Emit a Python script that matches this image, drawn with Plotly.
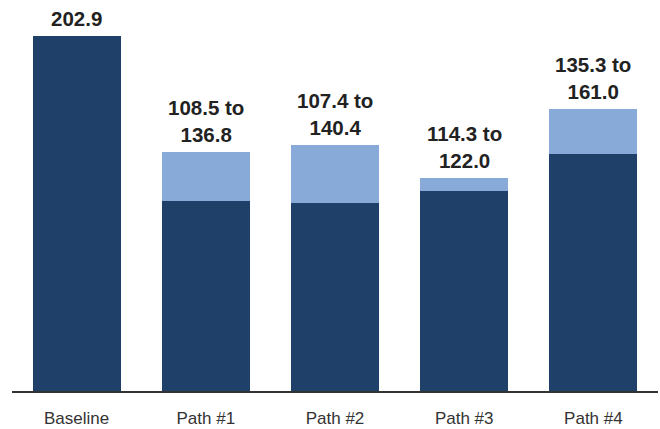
import plotly.graph_objects as go

categories = ["Baseline", "Path #1", "Path #2", "Path #3", "Path #4"]
low_values = [202.9, 108.5, 107.4, 114.3, 135.3]
high_values = [202.9, 136.8, 140.4, 122.0, 161.0]

DARK = "#1f4169"
LIGHT = "#87aad9"

fig = go.Figure()

# lower bound (dark) plus the range on top (light)
fig.add_trace(go.Bar(
    x=categories, y=low_values,
    marker=dict(color=DARK, line_width=0),
    hoverinfo="skip",
))
fig.add_trace(go.Bar(
    x=categories,
    y=[h - l for l, h in zip(low_values, high_values)],
    marker=dict(color=LIGHT, line_width=0),
    hoverinfo="skip",
))

annotations = []
for cat, lo, hi in zip(categories, low_values, high_values):
    text = f"{lo:.1f}" if lo == hi else f"{lo:.1f} to<br>{hi:.1f}"
    annotations.append(dict(
        x=cat, y=hi, text=f"<b>{text}</b>",
        showarrow=False, yanchor="bottom", yshift=4,
        font=dict(size=20.5, color="#222222", family="Liberation Sans, Arial"),
    ))

fig.update_layout(
    barmode="stack",
    bargap=0.319,
    width=660, height=429,
    margin=dict(l=12, r=2, t=20, b=38),
    plot_bgcolor="white",
    paper_bgcolor="white",
    showlegend=False,
    annotations=annotations,
    font=dict(family="Liberation Sans, Arial", color="#333333"),
    xaxis=dict(
        showline=True, linecolor="#333333", linewidth=1.5,
        ticks="outside", ticklen=11, tickcolor="rgba(0,0,0,0)",
        tickfont=dict(size=17, color="#333333"),
        showgrid=False,
    ),
    yaxis=dict(
        range=[0, 212], visible=False, showgrid=False, zeroline=False,
    ),
)

# drop the default page margin so the figure fills the window
fig.write_html(
    "out.html",
    config={"displayModeBar": False},
    post_script="document.body.style.margin='0';",
)
